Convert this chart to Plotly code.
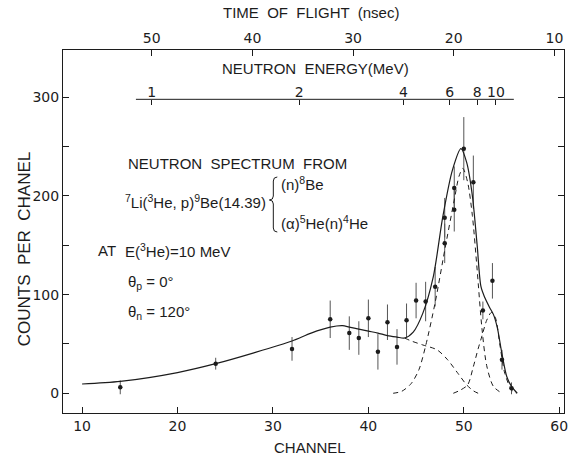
import numpy as np
import plotly.graph_objects as go

# ---- measured spectrum (counts per channel with statistical errors) ----
channel = [14, 24, 32, 36, 38, 39, 40, 41, 42, 43, 44, 45, 46, 47, 48, 48, 49, 49, 50, 51, 52, 53, 54, 55]
counts = [6, 30, 45, 75, 61, 56, 76, 42, 72, 47, 74, 94, 93, 108, 152, 178, 186, 208, 248, 214, 84, 114, 34, 5]
errors = [7, 6, 12, 19, 17, 17, 19, 18, 18, 18, 17, 18, 20, 20, 20, 20, 22, 22, 32, 27, 9, 18, 10, 6]

# ---- fitted total spectrum (solid) ----
fit_ch = [10, 14, 20, 24, 28, 32, 34, 36, 37.3, 38, 39, 40, 41, 42, 43, 43.8, 44.7, 45.7, 46.8,
          47.8, 48.8, 49.7, 50.3, 50.9, 51.4, 51.8, 52.2, 52.7, 53.1, 53.5, 54.0, 54.5, 55.0, 55.6]
fit_y = [9.4, 12, 21, 30, 41, 53, 61, 67, 68.5, 67, 65, 63, 61, 58.5, 57, 56, 62, 81, 118,
         179, 226, 248, 234, 200, 150, 108, 97, 87, 80, 67, 40, 17, 7, 0]

# ---- components (dashed) ----
# three-body continuum  (alpha) 5He(n) 4He, beyond the region where it equals the total
cont_ch = [43.8, 44.5, 45.7, 47.2, 48.3, 49.4, 50.3, 51.0, 51.5]
cont_y = [56, 53, 49, 44, 34, 20, 8.5, 2.5, 0]
# (n) 8Be ground-state peak
gs_ch = [42.6, 43.5, 44.5, 45.3, 46.0, 47.0, 48.0, 49.0, 49.5, 49.9, 50.4, 50.9, 51.4, 51.9, 52.4, 53.1, 54.0]
gs_y = [0, 2, 10, 24, 48, 92, 145, 196, 220, 228, 214, 180, 125, 66, 28, 7, 0]
# high-energy shoulder peak
hi_ch = [48.9, 49.6, 50.4, 51.0, 51.5, 51.9, 52.4, 52.9, 53.3, 53.8, 54.3, 55.0, 55.5]
hi_y = [0, 3, 8.5, 27, 45, 58, 74, 82, 77, 48, 20, 3.5, 0]

# ---- secondary scales ----
tof_labels = [50, 40, 30, 20, 10]           # ns
energy_labels = [1, 2, 4, 6, 8, 10]         # MeV
energy_line = (0.94, 12.7)                  # MeV span of the energy scale bar

CH_RANGE = [8, 60.5]
Y_RANGE = [-20, 348]


def tof_of_channel(ch):
    # linear time calibration of the TDC channels
    return 66.4 - 0.948 * ch


def tof_of_energy(e):
    # neutron flight time over the flight path, non-relativistic
    return 50.0 / np.sqrt(e)


TOF_RANGE = [tof_of_channel(CH_RANGE[0]), tof_of_channel(CH_RANGE[1])]

INK = "#1c1c1c"
FONT = "Liberation Sans, Arial, sans-serif"
TICK_FONT = dict(family="DejaVu Sans, sans-serif", size=14, color=INK)

# plot-area geometry in pixels (used to place the text blocks)
W, H = 575, 460
L, R, T, B = 63, 568, 50, 413


def px(x):
    return (x - L) / (R - L)


def py(y):
    return (B - y) / (B - T)


fig = go.Figure()

# data points with error bars
fig.add_trace(go.Scatter(
    x=channel, y=counts, mode="markers",
    marker=dict(symbol="circle", size=4.5, color=INK),
    error_y=dict(type="data", array=errors, visible=True, color="#555", thickness=1, width=0),
))

# fitted total
fig.add_trace(go.Scatter(
    x=fit_ch, y=fit_y, mode="lines",
    line=dict(color=INK, width=1.2, shape="spline", smoothing=0.8),
))

# components
for cx, cy in [(cont_ch, cont_y), (gs_ch, gs_y), (hi_ch, hi_y)]:
    fig.add_trace(go.Scatter(
        x=cx, y=cy, mode="lines",
        line=dict(color=INK, width=1, dash="5px,4px", shape="spline", smoothing=0.8),
    ))

# empty traces that carry the time-of-flight and energy scales
fig.add_trace(go.Scatter(x=[], y=[], xaxis="x2", yaxis="y", showlegend=False))
fig.add_trace(go.Scatter(x=[], y=[], xaxis="x3", yaxis="y", showlegend=False))

# energy scale bar
e_lo, e_hi = energy_line
fig.add_shape(type="line", xref="x3", yref="y",
              x0=tof_of_energy(e_lo), x1=tof_of_energy(e_hi), y0=298, y1=298,
              line=dict(color=INK, width=1))

# curly brace joining the two break-up channels
bx = [279, 275, 275, 271, 275, 275, 279]
by = [177, 181, 196, 200, 204, 228, 232]
path = (f"M {px(bx[0])},{py(by[0])} Q {px(bx[1])},{py(by[0])} {px(bx[1])},{py(by[1])} "
        f"L {px(bx[2])},{py(by[2])} Q {px(bx[2])},{py(by[3])} {px(bx[3])},{py(by[3])} "
        f"Q {px(bx[4])},{py(by[3])} {px(bx[4])},{py(by[4])} "
        f"L {px(bx[5])},{py(by[5])} Q {px(bx[5])},{py(by[6])} {px(bx[6])},{py(by[6])}")
fig.add_shape(type="path", xref="paper", yref="paper", path=path,
              line=dict(color=INK, width=1))

texts = [
    ("NEUTRON  SPECTRUM  FROM", 126, 163),
    ("<sup>7</sup>Li(<sup>3</sup>He, p)<sup>9</sup>Be(14.39)", 123, 201),
    ("(n)<sup>8</sup>Be", 281, 183),
    ("(α)<sup>5</sup>He(n)<sup>4</sup>He", 281, 222),
    ("AT", 96, 251),
    ("E(<sup>3</sup>He)=10 MeV", 123, 251),
    ("θ<sub>p</sub> = 0°", 126, 282),
    ("θ<sub>n</sub> = 120°", 126, 312),
]
for txt, x, y in texts:
    fig.add_annotation(text=txt, x=px(x), y=py(y), xref="paper", yref="paper",
                       xanchor="left", yanchor="middle", showarrow=False,
                       font=dict(family=FONT, size=15, color=INK))

# axis titles
titles = [
    ("TIME  OF  FLIGHT  (nsec)", 313, 12, 0, 15),
    ("NEUTRON  ENERGY(MeV)", 318, 69, 0, 15),
    ("CHANNEL", 312, 447, 0, 15),
    ("COUNTS  PER  CHANEL", 24, 249, -90, 17),
]
for txt, x, y, ang, size in titles:
    fig.add_annotation(text=txt, x=px(x), y=py(y), xref="paper", yref="paper",
                       xanchor="center", yanchor="middle", showarrow=False, textangle=ang,
                       font=dict(family=FONT, size=size, color=INK))

axis_common = dict(showgrid=False, zeroline=False, linecolor=INK, linewidth=1,
                   tickcolor=INK, tickwidth=1, tickfont=TICK_FONT)

fig.update_layout(
    width=W, height=H,
    margin=dict(l=L, r=W - R, t=T, b=H - B),
    paper_bgcolor="white", plot_bgcolor="white",
    showlegend=False,
    font=dict(family=FONT, size=15, color=INK),
    xaxis=dict(range=CH_RANGE, tickvals=[10, 20, 30, 40, 50, 60], ticks="inside", ticklen=6,
               showline=True, **axis_common),
    xaxis2=dict(overlaying="x", side="top", anchor="y", range=TOF_RANGE,
                tickvals=tof_labels, ticktext=[str(v) for v in tof_labels],
                ticks="inside", ticklen=6, showline=True, **axis_common),
    xaxis3=dict(overlaying="x", side="top", anchor="free",
                position=(298 - Y_RANGE[0]) / (Y_RANGE[1] - Y_RANGE[0]),
                range=TOF_RANGE,
                tickvals=[tof_of_energy(e) for e in energy_labels],
                ticktext=[str(e) for e in energy_labels],
                ticks="inside", ticklen=5, showline=False, **axis_common),
    yaxis=dict(range=Y_RANGE, tick0=0, dtick=100, ticks="inside", ticklen=6,
               minor=dict(tick0=0, dtick=50, ticks="inside", ticklen=6, tickcolor=INK, showgrid=False),
               showline=True, mirror="ticks", **axis_common),
)

fig.write_html("out.html")
